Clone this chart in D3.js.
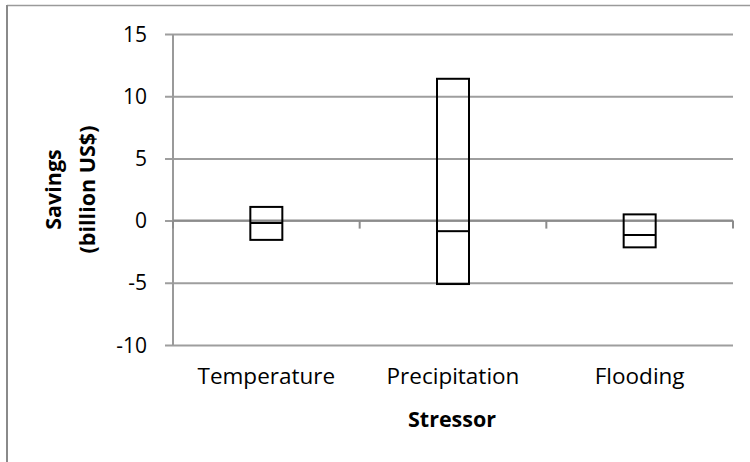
<!DOCTYPE html>
<html>
<head>
<meta charset="utf-8">
<script src="https://cdn.jsdelivr.net/npm/d3@7"></script>
<style>
  html, body { margin: 0; padding: 0; background: #fff; }
  svg { display: block; }
  text { font-family: "Open Sans", Lato, sans-serif; fill: #000; }
</style>
</head>
<body>
<svg id="chart" width="750" height="462"></svg>
<script>
// Savings range per stressor (billion US$)
const categories = ["Temperature", "Precipitation", "Flooding"];
const highValues = [1.1, 11.4, 0.5];
const lowValues  = [-1.55, -5.1, -2.15];
const midValues  = [-0.2, -0.85, -1.15];
const yTicks = [-10, -5, 0, 5, 10, 15];

const svg = d3.select("#chart");
const W = 750, H = 462;
const plot = { left: 173, right: 733, top: 34, bottom: 345 };

const x = d3.scaleBand().domain(categories).range([plot.left, plot.right]).padding(0);
const y = d3.scaleLinear().domain([-10, 15]).range([plot.bottom, plot.top]);

// outer chart frame (partially visible)
svg.append("line").attr("x1", 7).attr("x2", W).attr("y1", 5.5).attr("y2", 5.5)
  .attr("stroke", "#9a9a9a").attr("stroke-width", 1.5);
svg.append("line").attr("x1", 7).attr("x2", 7).attr("y1", 5).attr("y2", H)
  .attr("stroke", "#8a8a8a").attr("stroke-width", 2);

// horizontal gridlines with outward ticks on the value axis
const gridAxis = d3.axisLeft(y).tickValues(yTicks)
  .tickSize(-(plot.right - plot.left)).tickSizeOuter(0).tickFormat("");
const gg = svg.append("g").attr("transform", `translate(${plot.left},0)`).call(gridAxis);
gg.select(".domain").remove();
gg.selectAll(".tick line").attr("x1", -8).attr("stroke", "#9e9e9e").attr("stroke-width", 2);

// value axis line and labels
svg.append("line").attr("x1", plot.left).attr("x2", plot.left)
  .attr("y1", y(15)).attr("y2", y(-10)).attr("stroke", "#9a9a9a").attr("stroke-width", 2);
svg.append("g").selectAll("text").data(yTicks).join("text")
  .attr("x", 147).attr("y", d => y(d)).attr("dy", "0.36em")
  .attr("text-anchor", "end").attr("font-size", 21).text(d => d);

// category axis crossing at zero, ticks at band edges
const bounds = categories.map(c => x(c)).concat([plot.right]);
svg.append("line").attr("x1", plot.left).attr("x2", plot.right)
  .attr("y1", y(0)).attr("y2", y(0)).attr("stroke", "#8c8c8c").attr("stroke-width", 2);
svg.append("g").selectAll("line").data(bounds).join("line")
  .attr("x1", d => d).attr("x2", d => d)
  .attr("y1", y(0)).attr("y2", y(0) + 8)
  .attr("stroke", "#8c8c8c").attr("stroke-width", 2);

// category labels
svg.append("g").selectAll("text").data(categories).join("text")
  .attr("x", d => x(d) + x.bandwidth() / 2).attr("y", 384)
  .attr("text-anchor", "middle").attr("font-size", 22.5).text(d => d);

// boxes: high-low range with middle line
const boxW = 32;
const data = categories.map((c, i) => ({ c, hi: highValues[i], lo: lowValues[i], mid: midValues[i] }));
const boxes = svg.append("g").selectAll("g").data(data).join("g");
boxes.append("rect")
  .attr("x", d => x(d.c) + x.bandwidth() / 2 - boxW / 2)
  .attr("y", d => y(d.hi))
  .attr("width", boxW)
  .attr("height", d => y(d.lo) - y(d.hi))
  .attr("fill", "none").attr("stroke", "#000").attr("stroke-width", 2);
boxes.append("line")
  .attr("x1", d => x(d.c) + x.bandwidth() / 2 - boxW / 2)
  .attr("x2", d => x(d.c) + x.bandwidth() / 2 + boxW / 2)
  .attr("y1", d => y(d.mid)).attr("y2", d => y(d.mid))
  .attr("stroke", "#000").attr("stroke-width", 2);

// axis titles
svg.append("text").attr("x", 452).attr("y", 427).attr("text-anchor", "middle")
  .attr("font-size", 21.5).attr("font-weight", "bold").text("Stressor");
const yt = svg.append("text").attr("transform", `translate(0,${(plot.top + plot.bottom) / 2}) rotate(-90)`)
  .attr("text-anchor", "middle").attr("font-size", 21.5).attr("font-weight", "bold");
yt.append("tspan").attr("x", 0).attr("y", 61).text("Savings");
yt.append("tspan").attr("x", 0).attr("y", 95).text("(billion US$)");
</script>
</body>
</html>
